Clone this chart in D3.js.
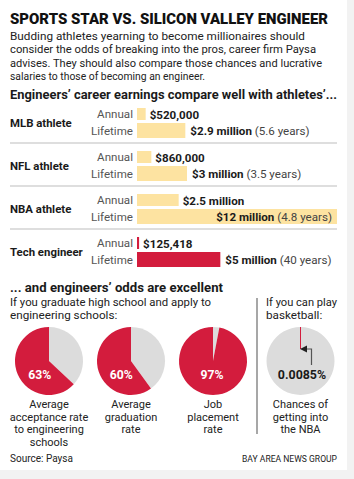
<!DOCTYPE html>
<html>
<head>
<meta charset="utf-8">
<script src="https://cdn.jsdelivr.net/npm/d3@7"></script>
<style>
  body { margin: 0; background: #f2f2f2; }
  svg { display: block; font-family: Roboto, "Noto Sans", sans-serif; }
</style>
</head>
<body>
<div id="chart"></div>
<script>
// earnings
const athletes = ["MLB athlete", "NFL athlete", "NBA athlete", "Tech engineer"];
const annual = [520000, 860000, 2500000, 125418];
const lifetime = [2900000, 3000000, 12000000, 5000000];
const annualLabels = ["$520,000", "$860,000", "$2.5 million", "$125,418"];
const lifetimeLabels = ["$2.9 million", "$3 million", "$12 million", "$5 million"];
const careerYears = ["(5.6 years)", "(3.5 years)", "(4.8 years)", "(40 years)"];

// odds
const oddsNames = ["acceptance", "graduation", "placement"];
const oddsValues = [63, 60, 97];
const oddsCaptions = [
  ["Average", "acceptance rate", "to engineering", "schools"],
  ["Average", "graduation", "rate"],
  ["Job", "placement", "rate"]
];
const nbaChance = 0.0085;
const nbaCaption = ["Chances of", "getting into", "the NBA"];

const W = 354, H = 479;
const RED = "#d31c3d", YELLOW = "#fde3a1", GREY = "#dcdcdc", INK = "#1a1a1a";

const svg = d3.select("#chart").append("svg")
    .attr("width", W)
    .attr("height", H);

svg.append("rect").attr("width", 347).attr("height", 470).attr("fill", "#fff");

const text = (x, y, s, size, weight = 400, fill = INK, anchor = "start", width = null) => {
  const t = svg.append("text")
    .attr("x", x).attr("y", y)
    .attr("font-size", size)
    .attr("font-weight", weight)
    .attr("fill", fill)
    .attr("text-anchor", anchor)
    .text(s);
  if (width) t.attr("textLength", width).attr("lengthAdjust", "spacingAndGlyphs");
  return t;
};

// header
text(10, 23.5, "SPORTS STAR VS. SILICON VALLEY ENGINEER", 15.5, 900, "#111", "start", 318);
const intro = [
  "Budding athletes yearning to become millionaires should",
  "consider the odds of breaking into the pros, career firm Paysa",
  "advises. They should also compare those chances and lucrative",
  "salaries to those of becoming an engineer."
];
const introW = [295, 306, 312, 195];
intro.forEach((s, i) => text(10, 39.5 + i * 13.5, s, 11.8, 400, "#222", "start", introW[i]));

text(10, 98.5, "Engineers\u2019 career earnings compare well with athletes\u2019...", 12.3, 700, INK, "start", 327);

// bars
const xScale = d3.scaleLinear()
    .domain([0, 12000000])
    .range([137, 337]);
const yScale = d3.scaleBand()
    .domain(athletes)
    .range([100, 272]);

const rows = svg.append("g").selectAll("g")
    .data(athletes)
    .join("g")
    .attr("transform", d => "translate(0," + yScale(d) + ")");

rows.filter((d, i) => i > 0).append("line")
    .attr("x1", 10).attr("x2", 337)
    .attr("y1", 0).attr("y2", 0)
    .attr("stroke", "#bdbdbd").attr("stroke-width", 1);

rows.append("text")
    .attr("x", 10).attr("y", 27)
    .attr("font-size", 11.4).attr("font-weight", 700).attr("fill", INK)
    .text(d => d);

rows.append("text")
    .attr("x", 133).attr("y", 18)
    .attr("text-anchor", "end").attr("font-size", 11.6).attr("fill", "#555")
    .text("Annual");
rows.append("text")
    .attr("x", 133).attr("y", 34.5)
    .attr("text-anchor", "end").attr("font-size", 11.6).attr("fill", "#555")
    .text("Lifetime");

const barColor = d => d === "Tech engineer" ? RED : YELLOW;

rows.append("rect")
    .attr("x", xScale(0)).attr("y", 8)
    .attr("width", (d, i) => Math.max(2, xScale(annual[i]) - xScale(0)))
    .attr("height", 12)
    .attr("fill", barColor);
rows.append("rect")
    .attr("x", xScale(0)).attr("y", 23)
    .attr("width", (d, i) => xScale(lifetime[i]) - xScale(0))
    .attr("height", 15)
    .attr("fill", barColor);

rows.append("text")
    .attr("x", (d, i) => Math.max(xScale(annual[i]), xScale(0) + 2) + 4)
    .attr("y", 18.5)
    .attr("font-size", 11.6).attr("font-weight", 700).attr("fill", INK)
    .text((d, i) => annualLabels[i]);

rows.each(function (d, i) {
  const inside = lifetime[i] === d3.max(lifetime);
  const t = d3.select(this).append("text")
      .attr("x", inside ? xScale(lifetime[i]) - 5 : xScale(lifetime[i]) + 5)
      .attr("y", 35)
      .attr("text-anchor", inside ? "end" : "start")
      .attr("font-size", 11.6).attr("fill", INK);
  t.append("tspan").attr("font-weight", 700).text(lifetimeLabels[i]);
  t.append("tspan").attr("fill", "#444").text(" " + careerYears[i]);
});

// odds section
text(10, 292, "... and engineers\u2019 odds are excellent", 12.4, 700, INK, "start", 213);
text(10, 306, "If you graduate high school and apply to", 11.7, 400, "#222", "start", 201);
text(10, 319, "engineering schools:", 11.7, 400, "#222");
text(266, 306, "If you can play", 11.7, 400, "#222", "start", 71);
text(266, 319, "basketball:", 11.7, 400, "#222");

svg.append("line")
    .attr("x1", 257).attr("x2", 257)
    .attr("y1", 298).attr("y2", 434)
    .attr("stroke", "#8a8a8a").attr("stroke-width", 1.5);

const pieX = d3.scalePoint().domain(oddsNames).range([49, 213]);
const pieY = 361, R = 34;
const pie = d3.pie().sort(null);
const arc = d3.arc().innerRadius(0).outerRadius(R);

oddsNames.forEach((name, i) => {
  const g = svg.append("g").attr("transform", "translate(" + pieX(name) + "," + pieY + ")");
  const slices = pie([100 - oddsValues[i], oddsValues[i]]);
  g.selectAll("path")
    .data(slices)
    .join("path")
    .attr("d", arc)
    .attr("fill", (d, j) => j === 0 ? GREY : RED);
  const mid = (slices[1].startAngle + slices[1].endAngle) / 2;
  g.append("text")
    .attr("x", Math.sin(mid) * R * 0.3).attr("y", 18)
    .attr("text-anchor", "middle")
    .attr("font-size", 12.2).attr("font-weight", 700).attr("fill", "#fff")
    .text(oddsValues[i] + "%");
  g.append("text")
    .attr("text-anchor", "middle").attr("font-size", 11).attr("fill", "#222")
    .selectAll("tspan")
    .data(oddsCaptions[i])
    .join("tspan")
    .attr("x", 0).attr("y", (d, j) => 47 + j * 12.6)
    .text(d => d);
});

// NBA odds
const nba = svg.append("g").attr("transform", "translate(300.5," + pieY + ")");
nba.selectAll("path")
  .data(pie([nbaChance, 100 - nbaChance]))
  .join("path")
  .attr("d", arc)
  .attr("fill", (d, j) => j === 0 ? RED : GREY);
nba.append("line")
  .attr("x1", 0).attr("x2", 0).attr("y1", -R).attr("y2", -12)
  .attr("stroke", RED).attr("stroke-width", 1);
svg.append("defs").append("marker")
  .attr("id", "head").attr("viewBox", "0 0 10 10")
  .attr("refX", 8).attr("refY", 5)
  .attr("markerWidth", 6).attr("markerHeight", 6)
  .attr("orient", "auto-start-reverse")
  .append("path").attr("d", "M0,0L10,5L0,10z").attr("fill", "#222");
nba.append("path")
  .attr("d", d3.line()([[11, 4], [11, -12], [1, -12]]))
  .attr("fill", "none").attr("stroke", "#555").attr("stroke-width", 1.2)
  .attr("marker-end", "url(#head)");
nba.append("text")
  .attr("x", 1.5).attr("y", 18)
  .attr("text-anchor", "middle")
  .attr("font-size", 12.4).attr("font-weight", 700).attr("fill", INK)
  .text(nbaChance + "%");
nba.append("text")
  .attr("text-anchor", "middle").attr("font-size", 11).attr("fill", "#222")
  .selectAll("tspan")
  .data(nbaCaption)
  .join("tspan")
  .attr("x", 0).attr("y", (d, j) => 47 + j * 12.6)
  .text(d => d);

// footer
text(10, 462, "Source: Paysa", 11, 400, "#222", "start", 63);
text(337, 462, "BAY AREA NEWS GROUP", 9, 400, "#222", "end", 95);
</script>
</body>
</html>
